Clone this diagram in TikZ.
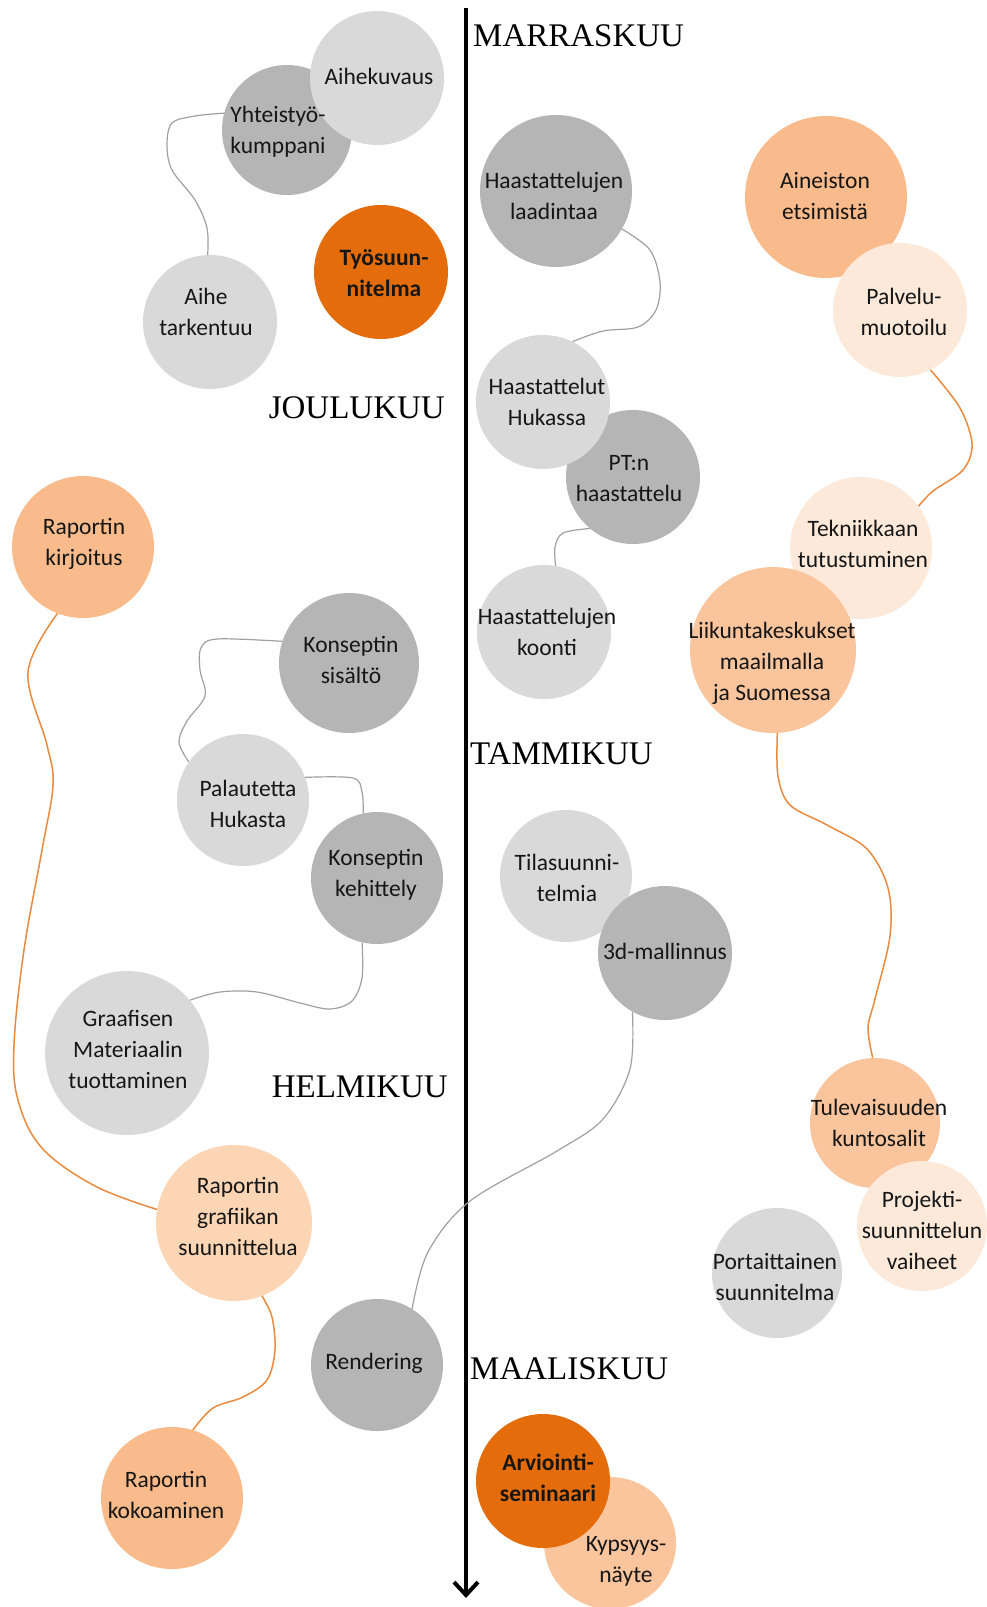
\documentclass[tikz,border=0pt]{standalone}
\usepackage{fontspec}
\setmainfont{Carlito}
\newfontfamily\monthfont{Liberation Serif}
\usetikzlibrary{arrows.meta}
\definecolor{lg}{HTML}{D9D9D9}
\definecolor{mg}{HTML}{B5B5B5}
\definecolor{do}{HTML}{E46C0A}
\definecolor{mo}{HTML}{F9BB8B}
\definecolor{moz}{HTML}{FAC49C}
\definecolor{po}{HTML}{FCD5B4}
\definecolor{lp}{HTML}{FDE9D9}
\definecolor{txt}{HTML}{161616}
\definecolor{gcon}{HTML}{A0A0A0}
\definecolor{ocon}{HTML}{E98A3F}
\begin{document}
\begin{tikzpicture}[x=1pt,y=-1pt,
  bub/.style={circle, inner sep=0pt, minimum size=#1},
  lbl/.style={align=center, text=txt, font=\fontsize{23.5}{31}\selectfont, inner sep=0pt},
  blbl/.style={align=center, text=txt, font=\fontsize{23.5}{31}\selectfont\bfseries, inner sep=0pt},
  month/.style={font=\monthfont\fontsize{33}{36}\selectfont, inner sep=0pt, text=black},
  gline/.style={draw=gcon, line width=1.2pt},
  oline/.style={draw=ocon, line width=1.5pt}]
\fill[white] (0,0) rectangle (987,1607);
\useasboundingbox (0,0) rectangle (987,1607);

% circles
\node[bub=130pt, fill=mg] (yht) at (287,130) {};
\node[bub=134pt, fill=lg] (aik) at (377,78) {};
\node[bub=134pt, fill=lg] (aihe) at (210,322) {};
\node[bub=134pt, fill=do] (tyo) at (381,272) {};
\node[bub=152pt, fill=mg] (laad) at (556,191) {};
\node[bub=134pt, fill=mg] (pt) at (633,477) {};
\node[bub=134pt, fill=lg] (huk) at (543,402) {};
\node[bub=134pt, fill=lg] (koon) at (544,632) {};
\node[bub=162pt, fill=mo] (ain) at (826,197) {};
\node[bub=134pt, fill=lp] (palv) at (900,310) {};
\node[bub=142pt, fill=lp] (tek) at (861,548) {};
\node[bub=166pt, fill=moz] (liik) at (773,650) {};
\node[bub=142pt, fill=mo] (rk) at (83,547) {};
\node[bub=140pt, fill=mg] (sis) at (349,663) {};
\node[bub=132pt, fill=lg] (pal) at (243,800) {};
\node[bub=132pt, fill=mg] (keh) at (377,878) {};
\node[bub=164pt, fill=lg] (graaf) at (127,1053) {};
\node[bub=132pt, fill=lg] (til) at (566,876) {};
\node[bub=134pt, fill=mg] (tdm) at (665,953) {};
\node[bub=130pt, fill=moz] (tul) at (875,1123) {};
\node[bub=130pt, fill=lp] (proj) at (922,1226) {};
\node[bub=130pt, fill=lg] (port) at (777,1273) {};
\node[bub=156pt, fill=po] (graf) at (234,1223) {};
\node[bub=132pt, fill=mg] (rend) at (377,1365) {};
\node[bub=142pt, fill=mo] (kok) at (172,1498) {};
\node[bub=132pt, fill=moz] (kyp) at (610,1543) {};
\node[bub=134pt, fill=do] (arv) at (543,1481) {};

% timeline arrow
\coordinate (atop) at (466,8);
\coordinate (abot) at (466,1598);
\draw[line width=4.5pt, -{Straight Barb[length=13pt, width=24pt, line width=4pt]}] (atop) -- (abot);

% gray connectors
\draw[gline] plot[smooth, tension=0.55] coordinates {(yht.165) (195,116) (172,123) (167,145) (172,170) (195,200) (207,228) (aihe.92)};
\draw[gline] plot[smooth, tension=0.55] coordinates {(laad.-30) (650,250) (660,282) (656,310) (638,327) (603,331) (huk.64)};
\draw[gline] plot[smooth, tension=0.55] coordinates {(pt.-130) (563,533) (555,547) (koon.80)};
\draw[gline] plot[smooth, tension=0.55] coordinates {(sis.162) (217,639) (201,648) (200,670) (205,696) (187,721) (179,742) (pal.145)};
\draw[gline] plot[smooth, tension=0.55] coordinates {(pal.20) (353,778) (362,792) (keh.102)};
\draw[gline] plot[smooth, tension=0.55] coordinates {(keh.-103) (362,978) (352,1001) (330,1009) (300,1003) (257,992) (220,992) (graaf.40)};
\draw[gline] plot[smooth, tension=0.55] coordinates {(tdm.-119) (630,1069) (603,1119) (557,1151) (470,1201) (428,1252) (rend.58)};

% orange connectors
\draw[oline] plot[smooth, tension=0.55] coordinates {(palv.-63) (960,408) (972,444) (963,470) (933,491) (tek.36)};
\draw[oline] plot[smooth, tension=0.55] coordinates {(liik.-87) (778,776) (790,805) (827,825) (867,849) (888,888) (890,936) (875,999) (868,1028) (tul.92)};
\draw[oline] plot[smooth, tension=0.6] coordinates {(rk.-111) (28,672) (47,745) (53,785) (42,850) (24,950) (14,1045) (18,1100) (42,1148) (95,1186) (graf.170)};
\draw[oline] plot[smooth, tension=0.55] coordinates {(graf.-69) (272,1317) (275,1350) (267,1380) (243,1397) (213,1408) (kok.73)};

% labels
\node[lbl] (taik) at (379,76) {Aihekuvaus};
\node[lbl] (tyht) at (278,132) {Yhteistyö-\\kumppani};
\node[lbl] (taihe) at (206,312) {Aihe\\tarkentuu};
\node[blbl] (ttyo) at (384,273) {Työsuun-\\nitelma};
\node[lbl] (tlaad) at (554,196) {Haastattelujen\\laadintaa};
\node[lbl] (thuk) at (547,402) {Haastattelut\\Hukassa};
\node[lbl] (tpt) at (629,479) {PT:n\\haastattelu};
\node[lbl] (tkoon) at (547,632) {Haastattelujen\\koonti};
\node[lbl] (tain) at (825,196) {Aineiston\\etsimistä};
\node[lbl] (tpalv) at (904,312) {Palvelu-\\muotoilu};
\node[lbl] (ttek) at (863,544) {Tekniikkaan\\tutustuminen};
\node[lbl] (tliik) at (772,663) {Liikuntakeskukset\\maailmalla\\ja Suomessa};
\node[lbl] (trk) at (84,544) {Raportin\\kirjoitus};
\node[lbl] (tsis) at (351,660) {Konseptin\\sisältö};
\node[lbl] (tpal) at (248,804) {Palautetta\\Hukasta};
\node[lbl] (tkeh) at (376,875) {Konseptin\\kehittely};
\node[lbl] (tgraaf) at (128,1049) {Graafisen\\Materiaalin\\tuottaminen};
\node[lbl] (ttil) at (567,878) {Tilasuunni-\\telmia};
\node[lbl] (ttdm) at (665,951) {3d-mallinnus};
\node[lbl] (ttul) at (879,1123) {Tulevaisuuden\\kuntosalit};
\node[lbl] (tproj) at (922,1230) {Projekti-\\suunnittelun\\vaiheet};
\node[lbl] (tport) at (775,1277) {Portaittainen\\suunnitelma};
\node[lbl] (tgraf) at (238,1216) {Raportin\\grafiikan\\suunnittelua};
\node[lbl] (trend) at (374,1363) {Rendering};
\node[lbl] (tkok) at (166,1495) {Raportin\\kokoaminen};
\node[blbl] (tarv) at (548,1478) {Arviointi-\\seminaari};
\node[lbl] (tkyp) at (626,1561) {Kypsyys-\\näyte};

% months
\node[month, anchor=base west] (mar) at (473,46) {MARRASKUU};
\node[month, anchor=base east] (jou) at (445,418) {JOULUKUU};
\node[month, anchor=base west] (tam) at (470,764) {TAMMIKUU};
\node[month, anchor=base east] (hel) at (448,1097) {HELMIKUU};
\node[month, anchor=base west] (maa) at (470,1379) {MAALISKUU};
\end{tikzpicture}
\end{document}
